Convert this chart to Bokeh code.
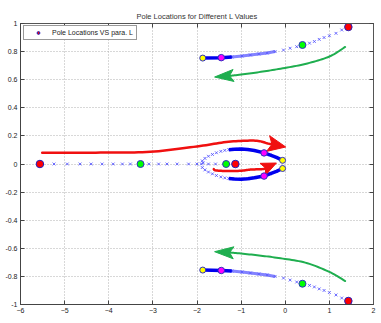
import math
from bokeh.plotting import figure
from bokeh.models import Range1d, LinearAxis, FixedTicker, Label, Legend, LegendItem
from bokeh.embed import file_html
from bokeh.resources import INLINE

# Axis units: real part in 1e8, imaginary part in 1e9
x_ticks = [-6, -5, -4, -3, -2, -1, 0, 1, 2]
y_ticks = [-1, -0.8, -0.6, -0.4, -0.2, 0, 0.2, 0.4, 0.6, 0.8, 1]
y_tick_labels = ["-1", "-0.8", "-0.6", "-0.4", "-0.2", "0", "0.2", "0.4", "0.6", "0.8", "1"]

# Pole trajectories as L is swept (first point = start, last point = end)
upper_x = [1.43, 1.28, 1.15, 1.00, 0.88, 0.77, 0.66, 0.55, 0.39, 0.26, 0.11, -0.04,
           -0.23, -0.41, -0.60, -0.79, -0.98, -1.21, -1.45, -1.87]
upper_y = [0.975, 0.954, 0.930, 0.913, 0.900, 0.887, 0.872, 0.860, 0.847, 0.835, 0.824, 0.811,
           0.800, 0.790, 0.783, 0.776, 0.769, 0.762, 0.757, 0.754]
lower_x = [1.43, 1.28, 1.15, 1.00, 0.88, 0.77, 0.66, 0.55, 0.39, 0.26, 0.11, -0.04,
           -0.23, -0.41, -0.60, -0.79, -0.98, -1.21, -1.45, -1.87]
lower_y = [-0.975, -0.954, -0.932, -0.915, -0.900, -0.889, -0.875, -0.864, -0.852, -0.840, -0.826, -0.812,
           -0.800, -0.790, -0.783, -0.776, -0.769, -0.762, -0.758, -0.755]
left_x = [-5.56, -5.24, -4.94, -4.65, -4.40, -4.15, -3.90, -3.69, -3.51, -3.28, -3.09, -2.87,
          -2.68, -2.45, -2.19, -2.00, -1.90, -1.88, -1.82, -1.74, -1.65, -1.56, -1.46, -1.37,
          -1.28, -1.15, -1.00, -0.85, -0.70, -0.48, -0.35, -0.20, -0.06]
left_y = [0, 0, 0, 0, 0, 0, 0, 0, 0, 0, 0, 0,
          0, 0, 0, 0, 0, -0.025, -0.042, -0.057, -0.070, -0.082, -0.092, -0.099,
          -0.104, -0.107, -0.108, -0.105, -0.098, -0.086, -0.070, -0.052, -0.032]
right_x = [-1.13, -1.34, -1.58, -1.74, -1.86, -1.88, -1.82, -1.74, -1.65, -1.56, -1.46, -1.37,
           -1.28, -1.15, -1.00, -0.85, -0.70, -0.48, -0.35, -0.20, -0.06]
right_y = [0, 0, 0, 0, 0.008, 0.022, 0.040, 0.055, 0.068, 0.080, 0.090, 0.097,
           0.102, 0.105, 0.106, 0.103, 0.096, 0.079, 0.065, 0.047, 0.026]

branches = [(upper_x, upper_y), (lower_x, lower_y), (left_x, left_y), (right_x, right_y)]
# index of the intermediate L values on each branch
green_idx = [8, 8, 9, 1]
magenta_idx = [18, 18, 29, 17]
# where the sampled points crowd into a continuous band
band_start = [12, 12, 24, 12]
dark_start = [17, 17, 24, 12]

FRAME_W, FRAME_H = 353, 281
XR, YR = (-6, 2), (-1, 1)
FONT = "Liberation Sans"

p = figure(width=381, height=323, output_backend="svg", toolbar_location=None,
           x_range=Range1d(*XR), y_range=Range1d(*YR),
           frame_width=FRAME_W, frame_height=FRAME_H,
           min_border_left=20, min_border_right=8, min_border_top=23, min_border_bottom=19,
           title="Pole Locations for Different L Values")
p.title.align = "center"
p.title.text_font = FONT
p.title.text_font_size = "7.5px"
p.title.text_font_style = "normal"
p.title.text_color = "#333333"
p.title.standoff = 6
p.outline_line_color = "#555555"
p.outline_line_width = 1

for ax in (p.xaxis[0], p.yaxis[0]):
    ax.major_tick_in = 4
    ax.major_tick_out = 0
    ax.minor_tick_in = 0
    ax.minor_tick_out = 0
    ax.axis_line_color = "#444444"
    ax.major_tick_line_color = "#444444"
    ax.major_label_text_font = FONT
    ax.major_label_text_font_size = "7px"
    ax.major_label_text_color = "#222222"
    ax.major_label_standoff = 3
p.xaxis[0].ticker = FixedTicker(ticks=x_ticks)
p.yaxis[0].ticker = FixedTicker(ticks=y_ticks)
p.yaxis[0].major_label_overrides = {t: s for t, s in zip(y_ticks, y_tick_labels)}

# tick marks on the opposite sides of the box, without labels
for side, ticks in (("right", y_ticks), ("above", x_ticks)):
    ax = LinearAxis(ticker=FixedTicker(ticks=ticks), major_tick_in=4, major_tick_out=0,
                    minor_tick_in=0, minor_tick_out=0, major_label_standoff=0,
                    major_label_overrides={t: "" for t in ticks},
                    major_label_text_font_size="7px",
                    axis_line_color="#555555", major_tick_line_color="#444444")
    p.add_layout(ax, side)

for g in (p.xgrid[0], p.ygrid[0]):
    g.grid_line_color = "#b0b0b0"
    g.grid_line_dash = "1 2"
    g.grid_line_width = 1
p.xgrid[0].ticker = FixedTicker(ticks=x_ticks)
p.ygrid[0].ticker = FixedTicker(ticks=y_ticks)

# sampled pole positions
for bx, by in branches:
    p.scatter(bx, by, marker="x", size=4, line_color="#4848ff", line_width=1, line_alpha=0.8)

# crowded samples merge into bands
for (bx, by), s, d in zip(branches, band_start, dark_start):
    if d > s:
        p.line(bx[s:d + 1], by[s:d + 1], line_color="#5a5aff", line_width=3, line_alpha=0.75)
    p.line(bx[d:], by[d:], line_color="#0000ee", line_width=3.5, line_join="round")

# direction annotations
SX = FRAME_W / (XR[1] - XR[0])
SY = FRAME_H / (YR[1] - YR[0])


def smooth(path, steps=12):
    """Catmull-Rom curve through the control points of an annotation path."""
    pts = [path[0]] + list(path) + [path[-1]]
    out = []
    for i in range(1, len(pts) - 2):
        p0, p1, p2, p3 = pts[i - 1], pts[i], pts[i + 1], pts[i + 2]
        for k in range(steps):
            t = k / steps
            t2, t3 = t * t, t * t * t
            out.append(tuple(0.5 * (2 * p1[j] + (-p0[j] + p2[j]) * t
                                    + (2 * p0[j] - 5 * p1[j] + 4 * p2[j] - p3[j]) * t2
                                    + (-p0[j] + 3 * p1[j] - 3 * p2[j] + p3[j]) * t3)
                             for j in range(2)))
    out.append(path[-1])
    return out


def arrow(path, tip, color, length, width, notch, lw):
    tx, ty = tip[0] * SX, tip[1] * SY
    bx, by = path[-1][0] * SX, path[-1][1] * SY
    dx, dy = tx - bx, ty - by
    n = math.hypot(dx, dy)
    ux, uy = dx / n, dy / n
    nx, ny = -uy, ux
    pts = [(tx, ty),
           (tx - length * ux + width / 2 * nx, ty - length * uy + width / 2 * ny),
           (tx - (length - notch) * ux, ty - (length - notch) * uy),
           (tx - length * ux - width / 2 * nx, ty - length * uy - width / 2 * ny)]
    hx = [q[0] / SX for q in pts]
    hy = [q[1] / SY for q in pts]
    curve = smooth(list(path) + [(hx[2], hy[2])])
    p.line([q[0] for q in curve], [q[1] for q in curve], line_color=color, line_width=lw,
           line_join="round", line_cap="round")
    p.patch(hx, hy, fill_color=color, line_color=color, line_width=1)


GREEN = "#1fae4f"
RED = "#f01010"
arrow([(1.358, 0.833), (1.0, 0.765), (0.453, 0.712), (-0.152, 0.676), (-0.679, 0.650),
       (-1.177, 0.630)], (-1.601, 0.619), GREEN, 19, 12, 4, 2)
arrow([(1.358, -0.833), (1.0, -0.768), (0.453, -0.702), (-0.152, -0.669), (-0.679, -0.648),
       (-1.177, -0.632)], (-1.601, -0.624), GREEN, 19, 12, 4, 2)
arrow([(-5.508, 0.080), (-4.188, 0.081), (-3.056, 0.087), (-2.0, 0.125),
       (-1.284, 0.158), (-0.679, 0.166), (-0.396, 0.146)], (0.011, 0.121), RED, 18, 16, 4, 2.5)
arrow([(-1.62, -0.036), (-1.57, -0.046), (-1.30, -0.050), (-1.00, -0.048), (-0.79, -0.040),
       (-0.50, -0.036)], (-0.20, 0.007), RED, 15, 13, 3, 2.5)

# markers at selected L values
red_x = [b[0][0] for b in branches]
red_y = [b[1][0] for b in branches]
green_x = [b[0][i] for b, i in zip(branches, green_idx)]
green_y = [b[1][i] for b, i in zip(branches, green_idx)]
mag_x = [b[0][i] for b, i in zip(branches, magenta_idx)]
mag_y = [b[1][i] for b, i in zip(branches, magenta_idx)]
yel_x = [b[0][-1] for b in branches]
yel_y = [b[1][-1] for b in branches]

p.scatter(yel_x, yel_y, size=6, fill_color="#ffff00", line_color="#3030c0", line_width=1)
p.scatter(mag_x, mag_y, size=6.5, fill_color="#ff00ff", line_color="#3030c0", line_width=1)
p.scatter(green_x, green_y, size=7, fill_color="#00ff00", line_color="#3030c0", line_width=1)
red_r = p.scatter(red_x, red_y, size=7.5, fill_color="#ff0000", line_color="#2020c0", line_width=1)

legend = Legend(items=[LegendItem(label="Pole Locations VS para. L", renderers=[red_r])],
                location=(3, 264), padding=3, margin=0, spacing=0,
                glyph_width=22, glyph_height=7, label_height=7, label_standoff=3,
                label_text_font=FONT, label_text_font_size="7px", label_text_color="#222222",
                border_line_color="#333333", border_line_width=1, background_fill_alpha=1)
p.add_layout(legend)

# exponent labels
p.add_layout(Label(x=-6, y=1, x_offset=2, y_offset=2, text="x 10", text_font=FONT,
                   text_font_size="6.5px", text_color="#222222"))
p.add_layout(Label(x=-6, y=1, x_offset=16, y_offset=8, text="9", text_font=FONT,
                   text_font_size="5px", text_color="#222222"))
p.add_layout(Label(x=2, y=-1, x_offset=-19, y_offset=-13, text="x 10", text_font=FONT,
                   text_font_size="5.5px", text_color="#222222", text_baseline="top"))
p.add_layout(Label(x=2, y=-1, x_offset=-4, y_offset=-10, text="8", text_font=FONT,
                   text_font_size="4.5px", text_color="#222222", text_baseline="top"))

open("out.html", "w").write(file_html(p, INLINE))
